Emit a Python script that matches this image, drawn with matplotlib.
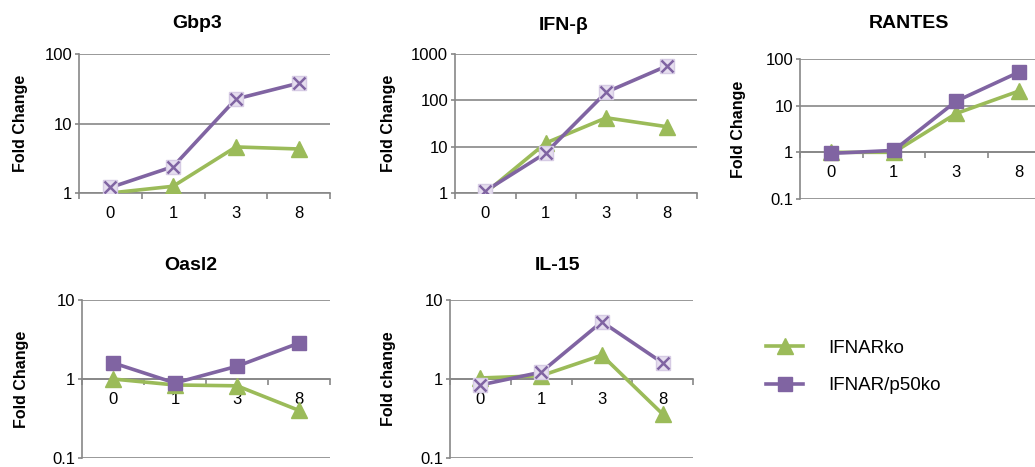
import matplotlib
matplotlib.use('Agg')
import matplotlib.pyplot as plt
from matplotlib.ticker import FixedLocator, FuncFormatter, NullLocator
from matplotlib.lines import Line2D

plt.rcParams['font.family'] = ['Liberation Sans', 'DejaVu Sans']

# days post infection
days = ['0', '1', '3', '8']

# fold change values
gbp3_ko = [1.0, 1.25, 4.6, 4.3]
gbp3_p50 = [1.2, 2.4, 22.5, 38]
ifnb_ko = [1.0, 12, 42, 27]
ifnb_p50 = [1.1, 7.3, 150, 550]
rantes_ko = [1.0, 1.0, 6.8, 20.5]
rantes_p50 = [0.95, 1.1, 12.5, 52]
oasl2_ko = [1.0, 0.84, 0.82, 0.4]
oasl2_p50 = [1.6, 0.89, 1.45, 2.85]
il15_ko = [1.03, 1.1, 2.0, 0.36]
il15_p50 = [0.84, 1.22, 5.3, 1.6]

green = '#9bbb59'
purple = '#8064a2'
grid_c = '#878787'

W, H = 1035, 467
fig = plt.figure(figsize=(W / 100, H / 100), dpi=100)

# name, ko, p50, ylim, ylabel, x-marker style, box (left, right, top, bottom px), title pos, ylabel x
panels = [
    ('Gbp3', gbp3_ko, gbp3_p50, (1, 100), 'Fold Change', True, (79, 330, 54, 193), (197, 24), 21),
    ('IFN-β', ifnb_ko, ifnb_p50, (1, 1000), 'Fold Change', True, (455, 697, 54, 193), (564, 26), 388),
    ('RANTES', rantes_ko, rantes_p50, (0.1, 100), 'Fold Change', False, (800, 1050, 59, 199), (909, 23), 738),
    ('Oasl2', oasl2_ko, oasl2_p50, (0.1, 10), 'Fold Change', False, (82, 330, 300, 458), (191, 265), 22),
    ('IL-15', il15_ko, il15_p50, (0.1, 10), 'Fold change', True, (450, 693, 300, 458), (557, 265), 388),
]

for name, ko, p50, ylim, ylab, xmark, box, tpos, ylx in panels:
    l, r, t, b = box
    ax = fig.add_axes([l / W, 1 - b / H, (r - l) / W, (b - t) / H])
    ax.set_yscale('log')
    ax.set_ylim(*ylim)
    ax.set_xlim(-0.5, 3.5)
    x = range(len(days))

    ax.plot(x, ko, color=green, lw=2.6, marker='^', ms=11, mfc=green, mec=green, zorder=3)
    if xmark:
        ax.plot(x, p50, color=purple, lw=2.6, marker='s', ms=10.5, mfc='#e6deef',
                mec='#d6cbe4', zorder=4)
        ax.plot(x, p50, ls='none', marker='x', ms=9, mew=1.8, color=purple, zorder=5)
    else:
        ax.plot(x, p50, color=purple, lw=2.6, marker='s', ms=10, mfc=purple, mec=purple, zorder=4)

    decades = []
    v = ylim[0]
    while v <= ylim[1] * 1.001:
        decades.append(v)
        v *= 10
    ax.yaxis.set_major_locator(FixedLocator(decades))
    ax.yaxis.set_minor_locator(NullLocator())
    ax.yaxis.set_major_formatter(FuncFormatter(lambda val, pos: '%g' % val))
    ax.grid(axis='y', color=grid_c, lw=1.2)
    ax.set_axisbelow(True)

    ax.spines['top'].set_visible(False)
    ax.spines['right'].set_visible(False)
    ax.spines['left'].set_color(grid_c)
    ax.spines['left'].set_linewidth(1.2)
    ax.spines['bottom'].set_color(grid_c)
    ax.spines['bottom'].set_linewidth(1.2)
    ax.spines['bottom'].set_position(('data', 1))

    ax.set_xticks(list(x))
    ax.set_xticklabels(days)
    ax.set_xticks([-0.5, 0.5, 1.5, 2.5, 3.5], minor=True)
    ax.tick_params(axis='x', which='major', length=0, pad=9, labelsize=12)
    ax.tick_params(axis='x', which='minor', length=4, width=1.2, color=grid_c)
    ax.tick_params(axis='y', which='major', length=3, width=1.2, color=grid_c,
                   pad=2, labelsize=12)

    fig.text(tpos[0] / W, 1 - tpos[1] / H, name, ha='center', va='center',
             fontsize=14, fontweight='bold')
    fig.text(ylx / W, 1 - ((t + b) / 2) / H, ylab, ha='center', va='center',
             rotation=90, fontsize=11.5, fontweight='bold')

handles = [
    Line2D([], [], color=green, lw=2.6, marker='^', ms=11, mfc=green, mec=green),
    Line2D([], [], color=purple, lw=2.6, marker='s', ms=10, mfc=purple, mec=purple),
]
fig.legend(handles, ['IFNARko', 'IFNAR/p50ko'], loc='center left',
           bbox_to_anchor=(749 / W, 1 - 367 / H), frameon=False, fontsize=13.5,
           handlelength=2.0, handletextpad=1.3, labelspacing=1.1)

fig.savefig('out.png', dpi=100)
